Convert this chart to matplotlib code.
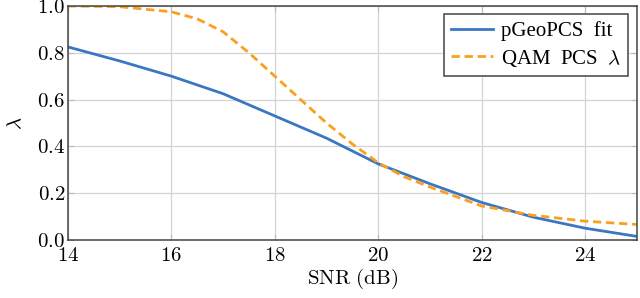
import matplotlib
matplotlib.use('Agg')
import matplotlib.pyplot as plt
from matplotlib.ticker import FuncFormatter

# pGeoPCS fit
snr_fit = [14, 15, 16, 17, 18, 19, 20, 21, 22, 23, 24, 25]
lam_fit = [0.825, 0.765, 0.70, 0.625, 0.53, 0.435, 0.325, 0.24, 0.16, 0.097, 0.05, 0.015]

# QAM PCS lambda
snr_qam = [14, 15, 16, 16.5, 17, 17.5, 18, 18.5, 19, 19.5, 20, 20.5, 21, 22, 23, 24, 25]
lam_qam = [1.0, 0.997, 0.975, 0.945, 0.89, 0.80, 0.70, 0.60, 0.50, 0.41, 0.33, 0.27,
           0.226, 0.145, 0.105, 0.08, 0.066]

xticks = [14, 16, 18, 20, 22, 24]
yticks = [0.0, 0.2, 0.4, 0.6, 0.8, 1.0]

plt.rcParams['mathtext.fontset'] = 'cm'
plt.rcParams['font.family'] = 'serif'
plt.rcParams['font.serif'] = ['Liberation Serif']

fig = plt.figure(figsize=(6.4, 2.98), dpi=100)
ax = fig.add_axes([0.106, 0.195, 0.889, 0.785])

ax.plot(snr_fit, lam_fit, color='#3a77c2', lw=2.0, label='pGeoPCS  fit')
ax.plot(snr_qam, lam_qam, color='#fb9f1f', lw=2.0, ls=(0, (3, 1.7)),
        label=r'QAM  PCS  $\lambda$')

ax.set_xlim(14, 25)
ax.set_ylim(0, 1)
ax.set_xticks(xticks)
ax.set_yticks(yticks)
ax.xaxis.set_major_formatter(FuncFormatter(lambda v, p: r'$%d$' % v))
ax.yaxis.set_major_formatter(FuncFormatter(lambda v, p: r'$%.1f$' % v))
ax.tick_params(direction='in', length=4, color='#bbbbbb', labelsize=15,
               top=True, right=True)
ax.tick_params(axis='x', pad=5)
ax.tick_params(axis='y', pad=2)
ax.grid(True, color='#d4d4d4', lw=0.9)
ax.set_axisbelow(True)
for s in ax.spines.values():
    s.set_color('#444444')
    s.set_linewidth(1.1)

ax.set_xlabel(r'$\mathrm{SNR\ (dB)}$', fontsize=15, labelpad=1)
ax.set_ylabel(r'$\lambda$', fontsize=15, labelpad=8)

leg = ax.legend(loc='upper right', fontsize=15, fancybox=False, framealpha=1,
                edgecolor='#444444', handlelength=2.0, handletextpad=0.4,
                borderpad=0.35, labelspacing=0.3, borderaxespad=0.4)
leg.get_frame().set_linewidth(1.1)

fig.savefig('out.png', dpi=100)
plt.close()
